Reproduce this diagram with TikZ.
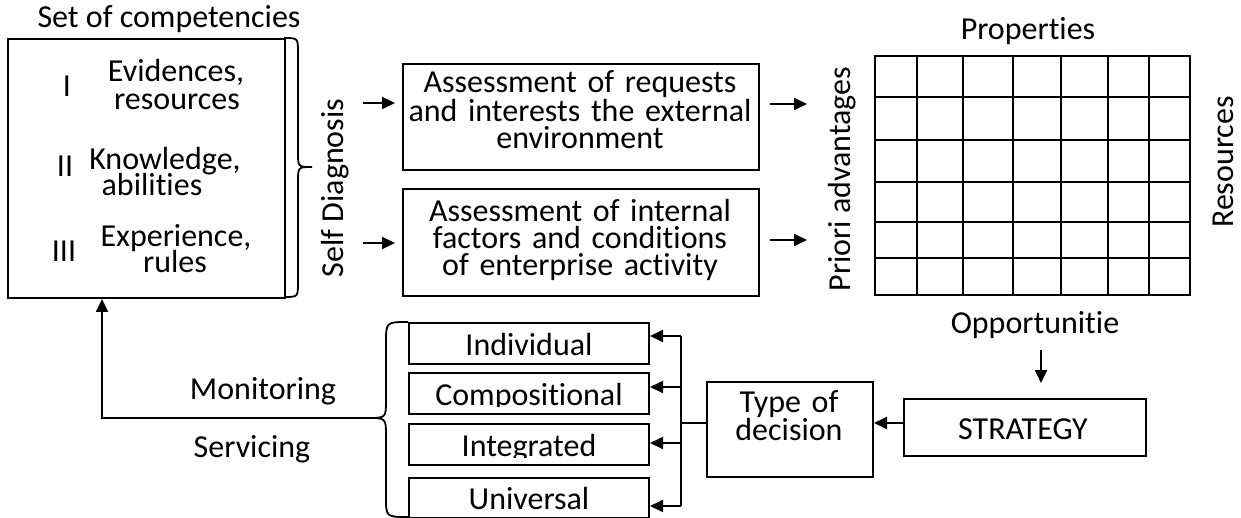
\documentclass[tikz,border=0pt]{standalone}
\usepackage{fontspec}
\setmainfont{Carlito}[Ligatures=NoCommon]
\usetikzlibrary{arrows.meta}
% keeps "t" and "i" as two separate glyphs
\newcommand\tsep{t\kern0pt i}
\begin{document}
\begin{tikzpicture}[x=1pt,y=-1pt,
  every node/.style={font=\fontsize{32}{27}\selectfont, inner sep=0pt},
  box/.style={draw, line width=2pt, rectangle, anchor=north west},
  ln/.style={line width=1.8pt},
  arr/.style={line width=1.8pt, -{Triangle[length=13pt,width=12pt]}},
  txt/.style={anchor=base},
  mtxt/.style={anchor=base, align=center, text width=#1},
]
\useasboundingbox (0,0) rectangle (1241,518);

% --- set of competencies -------------------------------------------------
\node[txt] (soc) at (169,28) {Set of competencies};
\node[box, minimum width=277pt, minimum height=259pt] (comp) at (7,38) {};
\node[txt] (n1) at (67,97)  {I};
\node[txt] (n2) at (65,177) {II};
\node[txt] (n3) at (64,262) {III};
\node[txt] (e1) at (176,82)  {Evidences,};
\node[txt] (e2) at (177,110) {resources};
\node[txt] (k1) at (165,170) {Knowledge,};
\node[txt] (k2) at (152,196) {abilities};
\node[txt] (x1) at (176,247) {Experience,};
\node[txt] (x2) at (175,273) {rules};

% right brace closing the competencies
\draw[ln] (284,38) .. controls (298,38) .. (298,53) -- (298,152)
  .. controls (298,167) .. (312,167) .. controls (298,167) .. (298,182)
  -- (298,282) .. controls (298,297) .. (284,297);

\node[txt, rotate=90] (sd) at (343,188) {Self Diagnosis};

% --- assessments ---------------------------------------------------------
\node[box, minimum width=356pt, minimum height=106pt] (ext) at (402,63) {};
\node[box, minimum width=356pt, minimum height=107pt] (int) at (402,188) {};
\node[mtxt=380pt] (ext-t) at (580,93)
  {Assessment of requests\\and interests the external\\environment};
\node[mtxt=380pt] (int-t) at (580,222)
  {Assessment of internal\\factors and condi\tsep ons\\of enterprise ac\tsep vity};

\coordinate (sd1) at (363,103);
\coordinate (sd2) at (363,243);
\draw[arr, shorten >=7pt] (sd1) -- (sd1 -| ext.west);
\draw[arr, shorten >=7pt] (sd2) -- (sd2 -| int.west);

\coordinate (g1) at (807,104);
\coordinate (g2) at (807,240);
\draw[arr, shorten <=10pt] (g1 -| ext.east) -- (g1);
\draw[arr, shorten <=10pt] (g2 -| int.east) -- (g2);

% --- properties / resources matrix ---------------------------------------
\node[txt] (prop) at (1028,40) {Proper\tsep es};
\node[txt, rotate=90] (prio) at (850,179) {Priori advantages};
\node[txt, rotate=90] (res) at (1233,162) {Resources};
\node[box, minimum width=315pt, minimum height=239pt] (grid) at (874,55) {};
\foreach \gx in {917,963,1013,1061,1108,1149}
  \draw[line width=2pt] (\gx,55) -- (\gx,294);
\foreach \gy in {97,140,182,222,258}
  \draw[line width=2pt] (874,\gy) -- (1189,\gy);

% --- strategy and decision -----------------------------------------------
\node[txt] (opp) at (1035,334) {Opportuni\tsep e};
\node[box, minimum width=242pt, minimum height=57pt] (strat) at (903,398) {};
\node[txt] (strat-t) at (1023,439) {STRATEGY};
\coordinate (o) at (1041,0);
\draw[arr, shorten <=11pt, shorten >=15pt] (opp.south -| o) -- (strat.north -| o);

\node[box, minimum width=166pt, minimum height=95pt] (type) at (706,381) {};
\node[mtxt=160pt] (type-t) at (789,412) {Type of\\decision};
\coordinate (tdy) at (0,423);
\draw[arr] (strat.west |- tdy) -- (type.east |- tdy);

% --- kinds of decision ---------------------------------------------------
\foreach \nm/\txt/\ya/\yb in {ind/Individual/322/363, cmp/Composi\tsep onal/372/413,
                              itg/Integrated/423/464, unv/Universal/477/517} {
  \node[box, minimum width=240pt, minimum height=\yb-\ya] (\nm) at (408,\ya) {};
  \begin{scope}
    \clip ([yshift=-1pt]\nm.north west) rectangle ([yshift=9pt]\nm.south east);
    \node[txt] (\nm-t) at ([yshift=10pt]\nm.south) {\txt};
  \end{scope}
}

\coordinate (bI) at (681,336);
\coordinate (bC) at (681,387);
\coordinate (bG) at (681,443);
\coordinate (bU) at (681,506);
\coordinate (bT) at (681,423);
\draw[ln] (bI) -- (bU);
\draw[ln] (type.west |- bT) -- (bT);
\draw[arr] (bI) -- (bI -| ind.east);
\draw[arr] (bC) -- (bC -| cmp.east);
\draw[arr] (bG) -- (bG -| itg.east);
\draw[arr] (bU) -- (bU -| unv.east);

% left brace gathering the kinds, and the feedback to the competencies
\draw[ln] (408,322) .. controls (386,322) .. (386,343) -- (386,400)
  .. controls (386,418) .. (367,418) .. controls (386,418) .. (386,436)
  -- (386,497) .. controls (386,517) .. (408,517);
\coordinate (ms) at (367,418);
\draw[arr] (ms) -| ([xshift=95pt]comp.south west);

\node[txt] (mon) at (263,399) {Monitoring};
\node[txt] (ser) at (252,457) {Servicing};
\end{tikzpicture}
\end{document}
